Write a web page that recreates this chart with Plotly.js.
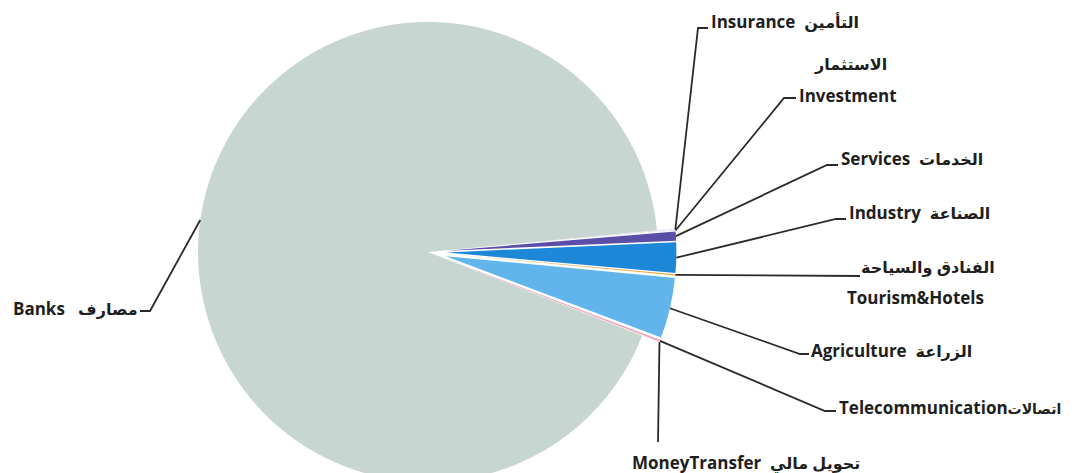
<!DOCTYPE html>
<html>
<head>
<meta charset="utf-8">
<script src="https://cdn.plot.ly/plotly-3.0.1.min.js"></script>
<style>
html,body{margin:0;padding:0;overflow:hidden;background:#fff;width:1073px;height:473px;}
#chart{width:1073px;height:510px;}
</style>
</head>
<body>
<div id="chart"></div>
<script>
// ---- data ----
const categories = ["Insurance","Investment","Services","Industry","Tourism&Hotels","Agriculture","Telecommunication","MoneyTransfer","Banks"];
const arabicNames = ["التأمين","الاستثمار","الخدمات","الصناعة","الفنادق والسياحة","الزراعة","اتصالات","تحويل مالي","مصارف"];
const sharePercent = [0.08, 0.08, 0.64, 2.13, 0.08, 4.25, 0.12, 0.06, 92.56];

// ---- style / layout ----
const sliceColors = ["#e4def5","#f4f4f8","#5a4ea8","#1e88d8","#f0a848","#62b4ec","#f2a0bc","#f6e6ee","#c8d6d2"];
const sliceIsPulled = [1,1,1,1,1,1,1,1,0];
const W = 1073, H = 510;
const CX = 428, CY = 252, R = 230, PULL = 0.08, ROT = 84.6;
const FONT = "Open Sans, DejaVu Sans, sans-serif";

// label placement (pixels): text position, elbow of leader line, tick end
const labelPlace = [
  {tx:709, ty:22,  elbow:[698,28],  tick:[708,28]},
  {tx:797, ty:95,  elbow:[784,98],  tick:[796,98], arabicAbove:{x:850, y:64}},
  {tx:839, ty:158, elbow:[827,165], tick:[838,165]},
  {tx:847, ty:212, elbow:[836,219], tick:[846,219]},
  {tx:845, ty:297, elbow:[860,276], tick:[860,276], arabicAbove:{x:928, y:267}},
  {tx:809, ty:350, elbow:[800,354], tick:[809,354]},
  {tx:837, ty:407, elbow:[825,411], tick:[836,411]},
  {tx:630, ty:462, elbow:[658,442], tick:[658,442]},
  {tx:11,  ty:308, elbow:[150,311], tick:[140,311]}
];

const pulls = sliceIsPulled.map(f => f ? PULL : 0);
const S = R * (1 + PULL);
const trace = {
  type: "pie",
  labels: categories,
  values: sharePercent,
  sort: false,
  direction: "clockwise",
  rotation: ROT,
  pull: pulls,
  textinfo: "none",
  hoverinfo: "label+percent",
  marker: {colors: sliceColors, line: {width: 0}},
  domain: {x: [(CX - S) / W, (CX + S) / W], y: [(H - CY - S) / H, (H - CY + S) / H]},
  showlegend: false
};

const px = x => x / W;
const py = y => 1 - y / H;

// leader line endpoints computed from the data
const total = sharePercent.reduce((a, b) => a + b, 0);
let cum = 0;
const shapes = [], annotations = [];
const arabicSpan = (t, s) => '<span style="font-size:' + (s || 16) + 'px">' + t + '</span>';
sharePercent.forEach((v, i) => {
  const mid = (ROT + (cum + v / 2) / total * 360) * Math.PI / 180;
  cum += v;
  const d = R * (1 + pulls[i]);
  const ex = CX + d * Math.sin(mid), ey = CY - d * Math.cos(mid);
  const L = labelPlace[i];
  shapes.push({
    type: "path", xref: "paper", yref: "paper",
    path: `M ${px(ex)} ${py(ey)} L ${px(L.elbow[0])} ${py(L.elbow[1])} L ${px(L.tick[0])} ${py(L.tick[1])}`,
    line: {color: "#2a2a2a", width: 1.8}
  });
  let txt;
  if (L.arabicAbove) {
    txt = categories[i].replace("&", "&amp;");
    annotations.push({xref:"paper", yref:"paper", x:px(L.arabicAbove.x), y:py(L.arabicAbove.y),
      xanchor:"center", yanchor:"middle", showarrow:false, text:"<b>" + arabicSpan(arabicNames[i]) + "</b>",
      font:{family:FONT, size:17, color:"#1e1e1e"}});
  } else if (i === 6) {
    txt = categories[i] + arabicSpan(arabicNames[i], 14);
  } else if (i === 8) {
    txt = categories[i] + "   " + arabicSpan(arabicNames[i]);
  } else {
    txt = categories[i] + "  " + arabicSpan(arabicNames[i]);
  }
  annotations.push({xref:"paper", yref:"paper", x:px(L.tx), y:py(L.ty),
    xanchor:"left", yanchor:"middle", showarrow:false, text:"<b>" + txt + "</b>",
    font:{family:FONT, size:17, color:"#1e1e1e"}});
});

const layout = {
  width: W, height: H,
  margin: {l:0, r:0, t:0, b:0},
  paper_bgcolor: "#ffffff",
  shapes: shapes,
  annotations: annotations
};
Plotly.newPlot("chart", [trace], layout, {displayModeBar:false, staticPlot:true});
</script>
</body>
</html>
